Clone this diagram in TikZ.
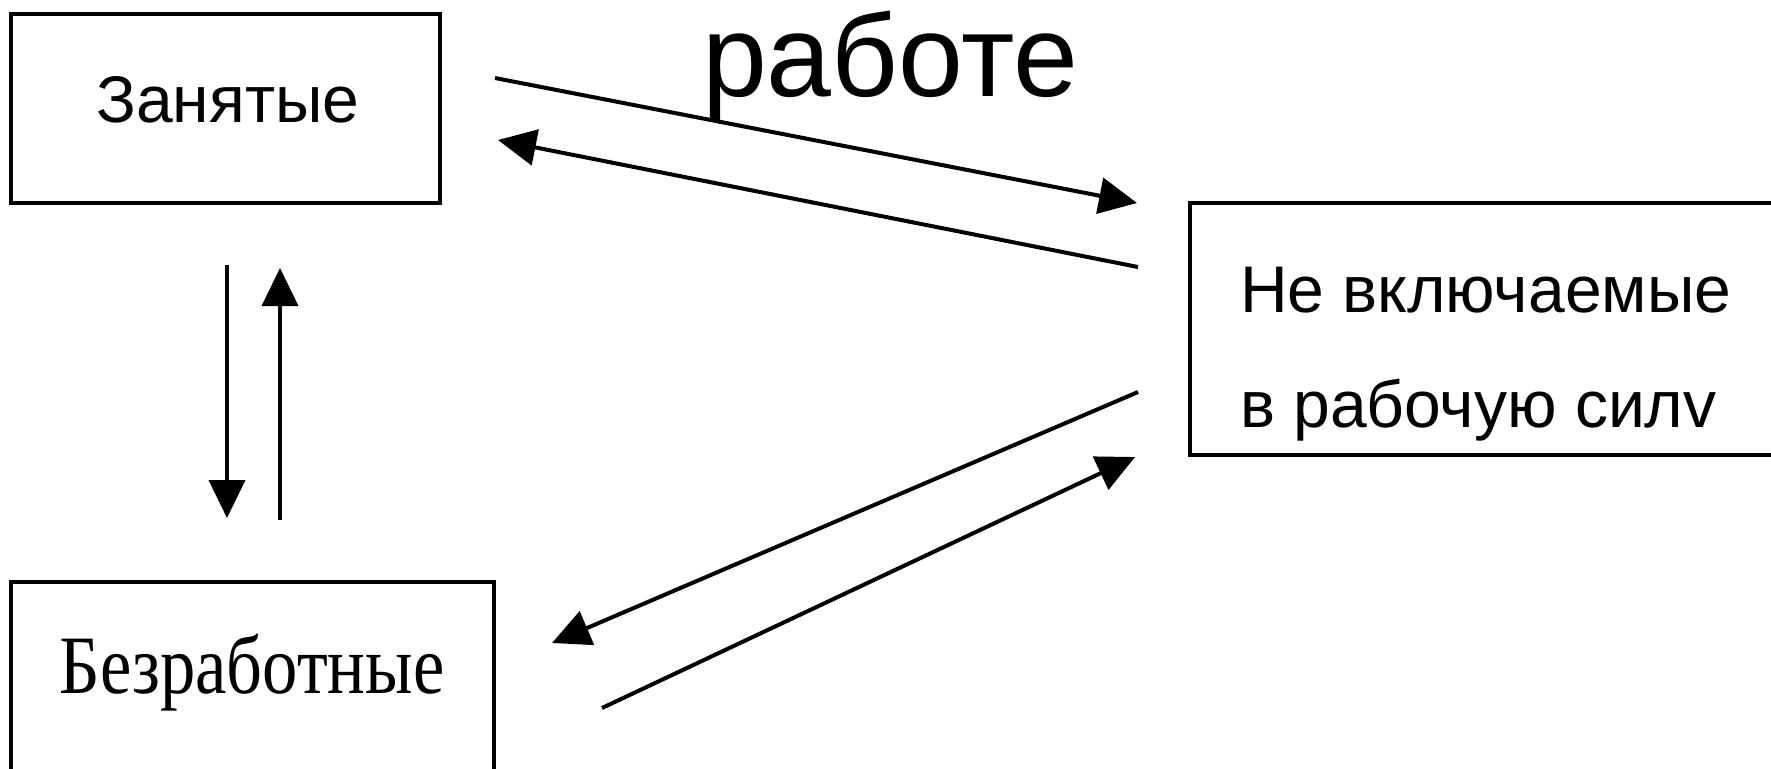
\documentclass[tikz,border=0pt]{standalone}
\usepackage{fontspec}
\usepackage{graphicx}
\usetikzlibrary{arrows.meta}
\newfontfamily\boxsans{Liberation Sans}
\newfontfamily\boxserif{Liberation Serif}
\newfontfamily\titlesans{Liberation Sans}
\begin{document}
\begin{tikzpicture}[x=0.5pt,y=-0.5pt,
  box/.style={draw, line width=1.7pt, rectangle, inner sep=0pt, outer sep=0pt},
  arr/.style={line width=2pt, -{Triangle[length=19pt,width=18pt]}},
  lbl/.style={inner sep=0pt, outer sep=0pt, anchor=base west, font=\boxsans\fontsize{33pt}{40pt}\selectfont}]
\useasboundingbox (0,0) rectangle (1771,768);
\fill[white] (0,0) rectangle (1771,768);
\clip (0,0) rectangle (1771,768);
% boxes
\node[box, minimum width=214.5pt, minimum height=94.5pt] (zan) at (225.5,108.5) {};
\node[box, minimum width=305pt, minimum height=126pt] (nev) at (1495,329) {};
\node[box, minimum width=241.5pt, minimum height=109pt] (bez) at (252.5,691) {};
% texts
\node[lbl, anchor=base] (zant) at (228,122) {Занятые};
\node[lbl] (nevt1) at (1240,312) {Не включаемые};
\node[lbl] (nevt2) at (1240,427) {в рабочую силv};
\node[inner sep=0pt, anchor=base] (bezt) at (252,693) {\scalebox{0.85}[1]{\boxserif\fontsize{41.5pt}{48pt}\selectfont Безработные}};
\node[inner sep=0pt, anchor=base] (title) at (890,96) {\titlesans\fontsize{58.3pt}{70pt}\selectfont работе};
% arrow end points
\coordinate (a1s) at (495,78);  \coordinate (a1e) at (1137,203);
\coordinate (a2s) at (1138,267); \coordinate (a2e) at (498,140);
\coordinate (a3s) at (227,265); \coordinate (a3e) at (227,518);
\coordinate (a4s) at (280,520); \coordinate (a4e) at (280,268);
\coordinate (a5s) at (1138,392); \coordinate (a5e) at (552,643);
\coordinate (a6s) at (602,708); \coordinate (a6e) at (1135,457);
\draw[arr] (a1s) -- (a1e);
\draw[arr] (a2s) -- (a2e);
\draw[arr] (a3s) -- (a3e);
\draw[arr] (a4s) -- (a4e);
\draw[arr] (a5s) -- (a5e);
\draw[arr] (a6s) -- (a6e);
\end{tikzpicture}
\end{document}
